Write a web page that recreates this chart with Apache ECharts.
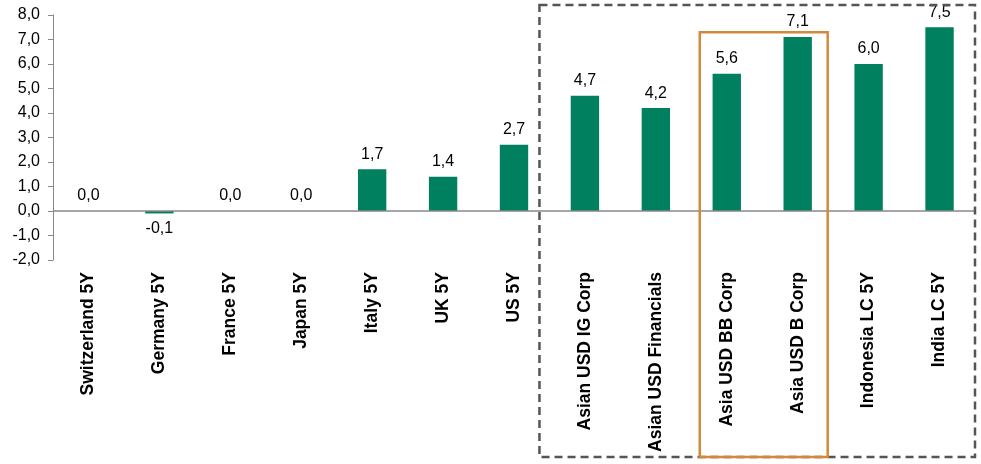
<!DOCTYPE html>
<html><head><meta charset="utf-8">
<script src="https://cdn.jsdelivr.net/npm/echarts@6/dist/echarts.min.js"></script>
<style>html,body{margin:0;padding:0;background:#fff}#c{width:981px;height:464px}</style>
</head><body><div id="c"></div>
<script>
const categories = ["Switzerland 5Y","Germany 5Y","France 5Y","Japan 5Y","Italy 5Y","UK 5Y","US 5Y","Asian USD IG Corp","Asian USD Financials","Asia USD BB Corp","Asia USD B Corp","Indonesia LC 5Y","India LC 5Y"];
const values = [0.0,-0.1,0.0,0.0,1.7,1.4,2.7,4.7,4.2,5.6,7.1,6.0,7.5];
const yTicks = {min:-2, max:8, interval:1};
const asiaGroup = [7,12];
const highlightGroup = [9,10];

const fmt = v => v.toFixed(1).replace('.', ',');
const chart = echarts.init(document.getElementById('c'));
const font = '"Liberation Sans", Arial, sans-serif';
chart.setOption({
  animation:false,
  grid:{left:53,right:6,top:15,bottom:204,containLabel:false},
  xAxis:{type:'category',data:categories,
    axisLine:{show:false,onZero:false},axisTick:{show:false},
    axisLabel:{rotate:90,interval:0,fontFamily:font,fontWeight:'bold',fontSize:17.5,color:'#000',margin:12}},
  yAxis:{type:'value',min:yTicks.min,max:yTicks.max,interval:yTicks.interval,
    axisLine:{show:true,lineStyle:{color:'#888'}},
    axisTick:{show:true,length:5,lineStyle:{color:'#888'}},
    splitLine:{show:false},
    axisLabel:{formatter:v=>fmt(v),fontFamily:font,fontSize:16,color:'#000',margin:13}},
  series:[{type:'bar',barWidth:'40%',
    data:values.map(v=>({value:v,label:{position:v<0?'bottom':'top'}})),
    itemStyle:{color:'#00805E'},
    label:{show:true,formatter:p=>fmt(p.value),fontFamily:font,fontSize:16,color:'#000',distance:7},
    markLine:{silent:true,symbol:'none',label:{show:false},lineStyle:{color:'#888',type:'solid',width:1.5},data:[{yAxis:0}]}
  }]
});
function px(i){return chart.convertToPixel({xAxisIndex:0},i);}
const band = px(1)-px(0);
const dashL = (px(asiaGroup[0]-1)+px(asiaGroup[0]))/2 - 10;
const dashR = px(asiaGroup[1]) + band/2;
const orL = px(highlightGroup[0]) - 27;
const orR = px(highlightGroup[1]) + 30;
const orT = chart.convertToPixel({yAxisIndex:0}, 7.3);
chart.setOption({graphic:[
  {type:'rect',shape:{x:dashL,y:5,width:dashR-dashL,height:452},style:{fill:'none',stroke:'#555',lineWidth:2.5,lineDash:[8,5]},z:100},
  {type:'rect',shape:{x:orL,y:orT,width:orR-orL,height:457-orT},style:{fill:'none',stroke:'#D4893A',lineWidth:2.5},z:101}
]});
</script></body></html>
